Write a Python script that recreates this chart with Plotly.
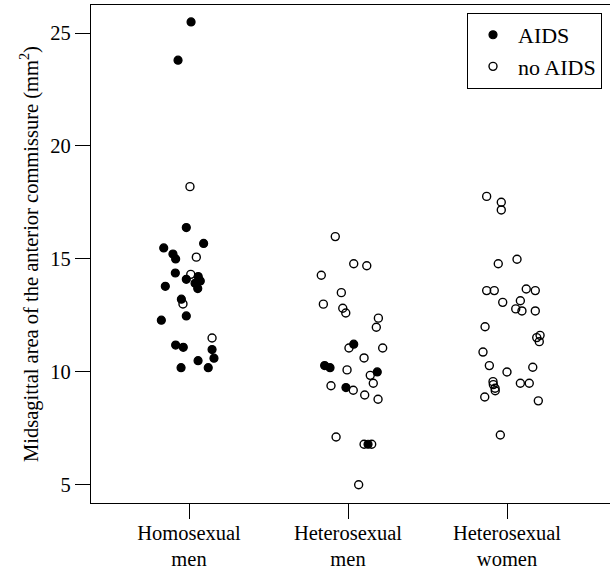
import plotly.graph_objects as go

groups = ["Homosexual<br>men", "Heterosexual<br>men", "Heterosexual<br>women"]

# Homosexual men: value, horizontal jitter, AIDS flag
homo_vals = [25.49, 23.8, 18.2, 16.39, 15.69, 15.49, 15.22, 15.0, 15.08, 14.38,
             14.32, 14.10, 14.22, 14.03, 13.92, 13.69, 13.79, 13.22, 13.01, 12.48,
             12.29, 11.50, 11.19, 11.09, 10.99, 10.61, 10.50, 10.19, 10.19]
homo_jit = [0.013, -0.069, 0.006, -0.017, 0.092, -0.159, -0.101, -0.084, 0.046, -0.086,
            0.011, -0.017, 0.058, 0.071, 0.038, 0.055, -0.149, -0.048, -0.038, -0.017,
            -0.174, 0.145, -0.084, -0.036, 0.145, 0.157, 0.057, -0.050, 0.121]
homo_aids = [1, 1, 0, 1, 1, 1, 1, 1, 0, 1,
             0, 1, 1, 1, 1, 1, 1, 1, 0, 1,
             1, 0, 1, 1, 1, 1, 1, 1, 1]

# Heterosexual men
hetm_vals = [15.99, 14.79, 14.70, 14.28, 13.51, 13.0, 12.82, 12.61, 12.38, 11.98,
             11.23, 11.06, 11.06, 10.62, 10.28, 10.19, 10.09, 10.0, 9.85, 9.50,
             9.39, 9.31, 9.19, 8.98, 8.79, 7.12, 6.80, 6.80, 6.80, 5.01]
hetm_jit = [-0.080, 0.036, 0.118, -0.168, -0.042, -0.155, -0.033, -0.014, 0.191, 0.178,
            0.036, 0.006, 0.218, 0.101, -0.147, -0.113, -0.006, 0.184, 0.140, 0.159,
            -0.107, -0.013, 0.033, 0.105, 0.189, -0.075, 0.101, 0.126, 0.149, 0.067]
hetm_aids = [0, 0, 0, 0, 0, 0, 0, 0, 0, 0,
             1, 0, 0, 0, 1, 1, 0, 1, 0, 0,
             0, 1, 0, 0, 0, 0, 0, 1, 0, 0]

# Heterosexual women
hetw_vals = [17.77, 17.51, 17.17, 14.99, 14.79, 13.60, 13.60, 13.67, 13.60, 13.08,
             13.15, 12.79, 12.70, 12.70, 12.0, 11.62, 11.52, 11.34, 10.88, 10.28,
             10.21, 10.0, 9.57, 9.44, 9.28, 9.17, 9.50, 9.50, 8.89, 8.72, 7.21]
hetw_jit = [-0.128, -0.036, -0.036, 0.063, -0.055, -0.128, -0.080, 0.121, 0.178, -0.027,
            0.084, 0.055, 0.094, 0.178, -0.138, 0.208, 0.187, 0.203, -0.151, -0.111,
            0.162, 0.0, -0.088, -0.086, -0.075, -0.074, 0.084, 0.140, -0.140, 0.197,
            -0.042]
hetw_aids = [0] * len(hetw_vals)

all_sets = [(1, homo_vals, homo_jit, homo_aids),
            (2, hetm_vals, hetm_jit, hetm_aids),
            (3, hetw_vals, hetw_jit, hetw_aids)]

ax, ay, nx, ny = [], [], [], []
for g, vals, jit, aids in all_sets:
    for v, j, a in zip(vals, jit, aids):
        if a:
            ax.append(g + j); ay.append(v)
        else:
            nx.append(g + j); ny.append(v)

FONT = "Liberation Serif"
FS = 20.5

fig = go.Figure()
fig.add_trace(go.Scatter(x=ax, y=ay, mode="markers", name="AIDS",
                         marker=dict(symbol="circle", size=8, color="black",
                                     line=dict(color="black", width=1.2))))
fig.add_trace(go.Scatter(x=nx, y=ny, mode="markers", name="no AIDS",
                         marker=dict(symbol="circle-open", size=8, color="black",
                                     line=dict(color="black", width=1.4))))

fig.update_layout(
    width=610, height=570,
    margin=dict(l=91, r=0, t=5, b=67, autoexpand=False),
    paper_bgcolor="white", plot_bgcolor="white",
    font=dict(family=FONT, size=FS, color="black"),
    showlegend=True,
    legend=dict(x=0.9846, y=0.984, xanchor="right", yanchor="top",
                bordercolor="black", borderwidth=1, bgcolor="white",
                itemwidth=40,
                font=dict(family=FONT, size=22)),
    xaxis=dict(range=[0.3836, 3.6478], tickvals=[1, 2, 3], ticktext=groups,
               automargin=False, ticklabelstandoff=-4,
               showgrid=False, zeroline=False, showline=True, mirror=True,
               linecolor="black", linewidth=1.3, ticks="outside", ticklen=15,
               tickcolor="black", tickwidth=1.3, tickfont=dict(size=FS)),
    yaxis=dict(range=[4.2, 26.24], tickvals=[5, 10, 15, 20, 25],
               automargin=False,
               showgrid=False, zeroline=False, showline=True, mirror=False,
               linecolor="black", linewidth=1.3, ticks="outside", ticklen=15,
               tickcolor="black", tickwidth=1.3, tickfont=dict(size=FS),
               title=dict(text="Midsagittal area of the anterior commissure (mm<sup>2</sup>)",
                          font=dict(size=FS), standoff=6)),
)

fig.write_html("out.html")
